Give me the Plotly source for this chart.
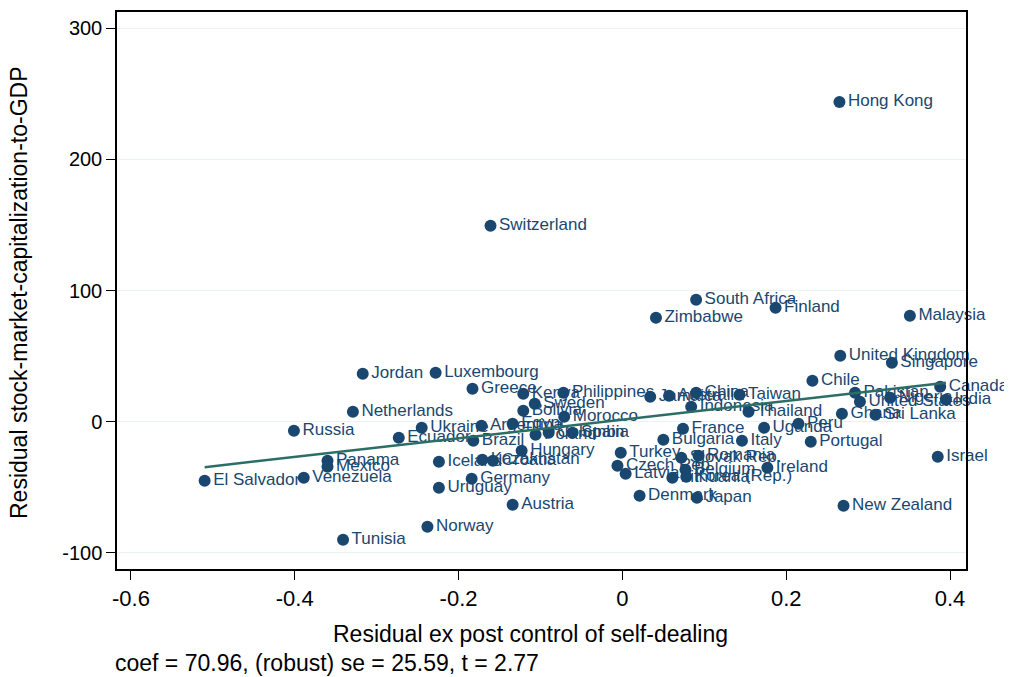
import plotly.graph_objects as go

countries = ["Hong Kong", "Switzerland", "South Africa", "Finland", "Zimbabwe", "Malaysia",
             "United Kingdom", "Singapore", "Jordan", "Luxembourg", "Chile", "Canada",
             "Greece", "Kenya", "Philippines", "Jamaica", "Australia", "China", "Taiwan",
             "Pakistan", "Nigeria", "India", "United States", "Sweden", "Indonesia",
             "Bolivia", "Netherlands", "Thailand", "Morocco", "Ghana", "Sri Lanka", "Peru",
             "Uganda", "Russia", "Ukraine", "Argentina", "Egypt", "Colombia", "Poland",
             "Spain", "France", "Ecuador", "Brazil", "Bulgaria", "Italy", "Portugal",
             "Hungary", "Turkey", "Romania", "Slovak Rep.", "Israel", "Panama",
             "Kazakhstan", "Croatia", "Iceland", "Czech Rep.", "Mexico", "Belgium",
             "Ireland", "Latvia", "Lithuania", "Korea (Rep.)", "Venezuela", "Germany",
             "El Salvador", "Uruguay", "Denmark", "Japan", "Austria", "New Zealand",
             "Norway", "Tunisia"]

x_resid = [0.265, -0.161, 0.090, 0.187, 0.041, 0.351,
           0.266, 0.329, -0.317, -0.228, 0.232, 0.388,
           -0.183, -0.121, -0.072, 0.034, 0.057, 0.090, 0.143,
           0.284, 0.327, 0.395, 0.290, -0.107, 0.084,
           -0.121, -0.329, 0.154, -0.071, 0.268, 0.309, 0.215,
           0.173, -0.401, -0.245, -0.172, -0.134, -0.090, -0.106,
           -0.061, 0.074, -0.273, -0.182, 0.050, 0.146, 0.230,
           -0.123, -0.002, 0.093, 0.072, 0.385, -0.360,
           -0.171, -0.158, -0.224, -0.006, -0.360, 0.077,
           0.177, 0.004, 0.061, 0.078, -0.389, -0.184,
           -0.510, -0.224, 0.021, 0.091, -0.134, 0.270,
           -0.238, -0.341]

y_resid = [243.7, 149.3, 92.9, 86.8, 79.2, 80.7,
           50.3, 44.9, 36.6, 37.3, 31.2, 26.7,
           25.1, 21.3, 22.1, 19.0, 19.8, 22.1, 20.6,
           22.1, 18.3, 16.8, 15.2, 13.7, 11.4,
           8.4, 7.6, 7.6, 3.8, 6.1, 5.3, -1.5,
           -4.6, -6.9, -4.6, -3.0, -1.5, -8.4, -9.9,
           -8.4, -5.3, -12.2, -14.5, -13.7, -14.5, -15.2,
           -22.1, -23.6, -25.9, -27.4, -26.7, -29.7,
           -28.9, -29.7, -30.5, -33.5, -34.3, -36.6,
           -35.0, -39.6, -42.6, -41.9, -42.7, -43.4,
           -44.9, -50.3, -56.4, -57.9, -63.2, -64.0,
           -80.0, -89.9]

fit_coef = 70.96
fit_intercept = 1.6

x_ticks = [-0.6, -0.4, -0.2, 0, 0.2, 0.4]
x_ticklabels = ["-0.6", "-0.4", "-0.2", "0", "0.2", "0.4"]
y_ticks = [-100, 0, 100, 200, 300]
y_ticklabels = ["-100", "0", "100", "200", "300"]
x_title = "Residual ex post control of self-dealing"
y_title = "Residual stock-market-capitalization-to-GDP"
note = "coef = 70.96, (robust) se = 25.59, t = 2.77"

xfit = [min(x_resid), max(x_resid)]
yfit = [fit_intercept + fit_coef * v for v in xfit]

navy = "#1a476f"
font = "Liberation Sans, Arial, Helvetica, sans-serif"

# page has an 8px body margin; figure sized so the plot frame lands at 117..966 x 12..569
OFF = 8
W, H = 1004, 669
L, R, T, B = 109, 46, 4, 108
pw, ph = W - L - R, H - T - B


def px(page_x):
    return (page_x - OFF - L) / pw


def py(page_y):
    return (OFF + H - B - page_y) / ph


fig = go.Figure()
fig.add_trace(go.Scatter(
    x=x_resid, y=y_resid, mode="markers+text", text=countries,
    textposition="middle right",
    textfont=dict(family=font, size=17, color=navy),
    marker=dict(size=12, color=navy), showlegend=False, cliponaxis=False))
fig.add_trace(go.Scatter(
    x=xfit, y=yfit, mode="lines", line=dict(color="#2b6e66", width=2.5),
    showlegend=False))

fig.update_layout(
    width=W, height=H,
    margin=dict(l=L, r=R, t=T, b=B),
    paper_bgcolor="white", plot_bgcolor="white",
    font=dict(family=font, size=18, color="black"),
    xaxis=dict(range=[-0.617, 0.4195], tickvals=x_ticks, ticktext=x_ticklabels,
               showgrid=False, zeroline=False, showline=True, linecolor="black",
               linewidth=1.5, mirror=True, ticks="outside", ticklen=9,
               tickcolor="black", tickfont=dict(size=22), automargin=False),
    yaxis=dict(range=[-112.2, 312.2], tickvals=y_ticks, ticktext=y_ticklabels,
               showgrid=True, gridcolor="#eaf2f3", gridwidth=1, zeroline=False,
               showline=True, linecolor="black", linewidth=1.5, mirror=True,
               ticks="outside", ticklen=9, tickcolor="black", tickfont=dict(size=20),
               automargin=False),
)
fig.add_annotation(text=x_title, xref="paper", yref="paper",
                   x=px(530), y=py(634), xanchor="center", yanchor="middle",
                   showarrow=False, font=dict(size=23, family=font))
fig.add_annotation(text=y_title, xref="paper", yref="paper",
                   x=px(19), y=py(293), textangle=-90,
                   xanchor="center", yanchor="middle", showarrow=False,
                   font=dict(size=23, family=font))
fig.add_annotation(text=note, xref="paper", yref="paper",
                   x=px(113), y=py(663), xanchor="left", yanchor="middle",
                   showarrow=False, font=dict(size=23, family=font))

fig.write_html("out.html")
